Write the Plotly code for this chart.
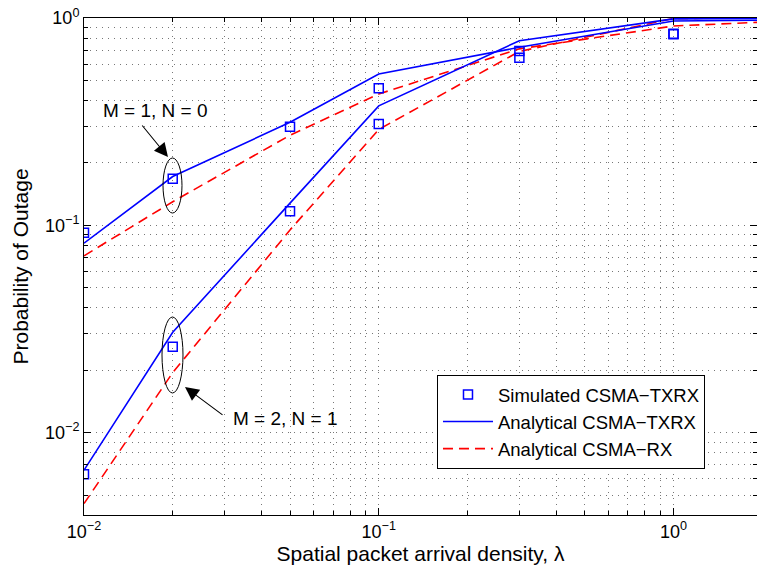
import math
import plotly.graph_objects as go

# ---- data ----
lam_sim = [0.01, 0.02, 0.05, 0.1, 0.3, 1.0]
sim_m1 = [0.092, 0.168, 0.299, 0.458, 0.644, 0.835]
sim_m2 = [0.0063, 0.026, 0.117, 0.308, 0.693, 0.84]

lam_ana = [0.01, 0.02, 0.05, 0.1, 0.3, 1.0, 2.0]
txrx_m1 = [0.082, 0.172, 0.314, 0.537, 0.722, 0.967, 0.975]
txrx_m2 = [0.0066, 0.0305, 0.128, 0.377, 0.777, 0.99, 0.995]
rx_m1 = [0.0713, 0.13, 0.272, 0.43, 0.71, 0.915, 0.955]
rx_m2 = [0.00455, 0.0195, 0.095, 0.29, 0.69, 0.995, 1.0]

x_tickvals = [0.01, 0.1, 1]
x_ticktext = ["10<sup>\u22122</sup>", "10<sup>\u22121</sup>", "10<sup>0</sup>"]
y_tickvals = [0.01, 0.1, 1]
y_ticktext = ["10<sup>\u22122</sup>", "10<sup>\u22121</sup>", "10<sup>0</sup>"]

BLUE = "#0000ff"
RED = "#ff0000"
FONT = "Liberation Sans, Arial, Helvetica, sans-serif"

fig = go.Figure()

for i, ys in enumerate([rx_m1, rx_m2]):
    fig.add_trace(go.Scatter(
        x=lam_ana, y=ys, mode="lines", name="Analytical CSMA\u2212RX",
        legendgroup="rx", showlegend=(i == 0), legendrank=3,
        line=dict(color=RED, width=1.6, dash="10px,6px")))
for i, ys in enumerate([txrx_m1, txrx_m2]):
    fig.add_trace(go.Scatter(
        x=lam_ana, y=ys, mode="lines", name="Analytical CSMA\u2212TXRX",
        legendgroup="txrx", showlegend=(i == 0), legendrank=2,
        line=dict(color=BLUE, width=1.6)))
for i, ys in enumerate([sim_m1, sim_m2]):
    fig.add_trace(go.Scatter(
        x=lam_sim, y=ys, mode="markers", name="Simulated CSMA\u2212TXRX",
        legendgroup="sim", showlegend=(i == 0), legendrank=1,
        marker=dict(symbol="square-open", size=9, color=BLUE,
                    line=dict(color=BLUE, width=1.5))))

minor_vals = [m * 10 ** e for e in range(-3, 1) for m in range(2, 10)]
grid_style = dict(showgrid=True, gridcolor="#777777", gridwidth=1, griddash="1px,5px")

axis_common = dict(
    type="log", ticks="inside", ticklen=7, tickwidth=1, tickcolor="black",
    showline=True, linecolor="black", linewidth=1, mirror="allticks",
    zeroline=False, automargin=False,
    tickfont=dict(size=18, color="black", family=FONT),
    minor=dict(tickvals=minor_vals, ticks="inside", ticklen=4, tickcolor="black",
               **grid_style),
    **grid_style,
)

fig.update_layout(
    width=757, height=576,
    margin=dict(l=84, r=0, t=18, b=61),
    paper_bgcolor="white", plot_bgcolor="white",
    font=dict(family=FONT, size=19, color="black"),
    xaxis=dict(range=[-2, math.log10(1.92)], tickmode="array",
               tickvals=x_tickvals, ticktext=x_ticktext,
               title=dict(text="Spatial packet arrival density, \u03bb",
                          font=dict(size=21), standoff=0),
               **axis_common),
    yaxis=dict(range=[math.log10(0.00401), 0], tickmode="array",
               tickvals=y_tickvals, ticktext=y_ticktext,
               title=dict(text="Probability of Outage", font=dict(size=21), standoff=10),
               **axis_common),
    legend=dict(x=0.5245, y=0.2817, xanchor="left", yanchor="top",
                bordercolor="black", borderwidth=1, bgcolor="white",
                font=dict(size=18.5), itemwidth=50, tracegroupgap=0),
    showlegend=True,
)

# annotations (paper coords)
fig.add_annotation(x=0.1055, y=0.8129, xref="paper", yref="paper",
                   xanchor="center", yanchor="middle",
                   text="M = 1, N = 0", showarrow=False, font=dict(size=19))
fig.add_annotation(x=0.2987, y=0.1932, xref="paper", yref="paper",
                   xanchor="center", yanchor="middle",
                   text="M = 2, N = 1", showarrow=False, font=dict(size=19))
fig.add_annotation(x=0.1248, y=0.7203, xref="paper", yref="paper", text="",
                   showarrow=True, ax=-27, ay=-33, arrowhead=2, arrowsize=2.5,
                   arrowwidth=1.1, arrowcolor="black", standoff=0)
fig.add_annotation(x=0.1501, y=0.2575, xref="paper", yref="paper", text="",
                   showarrow=True, ax=39, ay=29, arrowhead=2, arrowsize=2.5,
                   arrowwidth=1.1, arrowcolor="black", standoff=0)

fig.add_shape(type="circle", xref="paper", yref="paper",
              x0=0.1174, x1=0.1456, y0=0.6076, y1=0.7183,
              line=dict(color="black", width=1))
fig.add_shape(type="circle", xref="paper", yref="paper",
              x0=0.1159, x1=0.1471, y0=0.2455, y1=0.3984,
              line=dict(color="black", width=1))

fig.write_html("out.html", config={"displayModeBar": False},
               post_script="document.body.style.margin='0px';")
